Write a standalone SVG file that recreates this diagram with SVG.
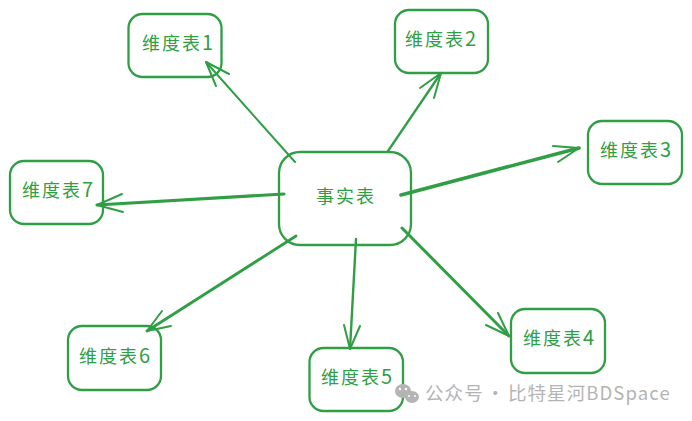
<svg xmlns="http://www.w3.org/2000/svg" width="692" height="421" viewBox="0 0 692 421">
<style>
.box{fill:none;stroke:#2f9e44;stroke-width:2.3;stroke-linecap:round;stroke-linejoin:round}
.t{font-family:"Noto Sans CJK SC","Noto Sans",sans-serif;font-size:18px;font-weight:400;letter-spacing:2px;fill:#2f9e44}
.n{font-size:20px}
.c{fill:none;stroke:#2f9e44;stroke-linecap:round;stroke-linejoin:round}
.h{stroke-width:2}
.wm{font-family:"Noto Sans CJK SC","Noto Sans",sans-serif;font-size:18.5px;letter-spacing:1.1px;word-spacing:-3px;fill:#b4b4b4}
</style>
<rect width="692" height="421" fill="#ffffff"/>
<g id="connectors">
<path class="c" stroke-width="2" d="M295 162L206 62"/><path class="c h" d="M229 74L206 62L216 86"/>
<path class="c" stroke-width="2.3" d="M388 151L441 73"/><path class="c h" d="M420 88L441 73L434 98"/>
<path class="c" stroke-width="3.6" d="M401 195L579 148"/><path class="c h" d="M553 146L579 148L558 162"/>
<path class="c" stroke-width="3" d="M402 228L509 336"/><path class="c h" d="M486 325L509 336L498 313"/>
<path class="c" stroke-width="2.4" d="M356 239L350 349"/><path class="c h" d="M344 325L350 349L360 326"/>
<path class="c" stroke-width="2.8" d="M296 236L147 331"/><path class="c h" d="M162 311L147 331L171 326"/>
<path class="c" stroke-width="3.2" d="M284 194L97 205"/><path class="c h" d="M122 194L97 205L123 212"/>
</g>
<g id="fact"><rect class="box" x="279" y="152" width="132" height="93" rx="21"/><text class="t" x="316" y="203">事实表</text></g>
<g id="dim1"><rect class="box" x="128.500" y="14" width="93" height="63" rx="14"/><text class="t" x="142" y="50">维度表<tspan class="n">1</tspan></text></g>
<g id="dim2"><rect class="box" x="395" y="10" width="93" height="63" rx="14"/><text class="t" x="405" y="46">维度表<tspan class="n">2</tspan></text></g>
<g id="dim3"><rect class="box" x="588" y="121" width="94" height="63" rx="14"/><text class="t" x="600" y="157">维度表<tspan class="n">3</tspan></text></g>
<g id="dim4"><rect class="box" x="511" y="309" width="94" height="64" rx="14"/><text class="t" x="523" y="345">维度表<tspan class="n">4</tspan></text></g>
<g id="dim5"><rect class="box" x="309.500" y="348" width="93.500" height="63" rx="14"/><text class="t" x="321" y="384">维度表<tspan class="n">5</tspan></text></g>
<g id="dim6"><rect class="box" x="68" y="326" width="93" height="64" rx="14"/><text class="t" x="79" y="363">维度表<tspan class="n">6</tspan></text></g>
<g id="dim7"><rect class="box" x="10" y="161" width="93" height="63" rx="14"/><text class="t" x="22" y="197">维度表<tspan class="n">7</tspan></text></g>
<g id="watermark">
<ellipse cx="403" cy="391" rx="8" ry="7" fill="#b4b4b4"/><ellipse cx="412" cy="397" rx="7" ry="6" fill="#b4b4b4"/><circle cx="400" cy="389" r="1.2" fill="#fff"/><circle cx="406" cy="389" r="1.2" fill="#fff"/><circle cx="409" cy="396" r="1" fill="#fff"/><circle cx="415" cy="396" r="1" fill="#fff"/>
<text class="wm" x="425" y="400">公众号 · 比特星河BDSpace</text>
</g>
</svg>
